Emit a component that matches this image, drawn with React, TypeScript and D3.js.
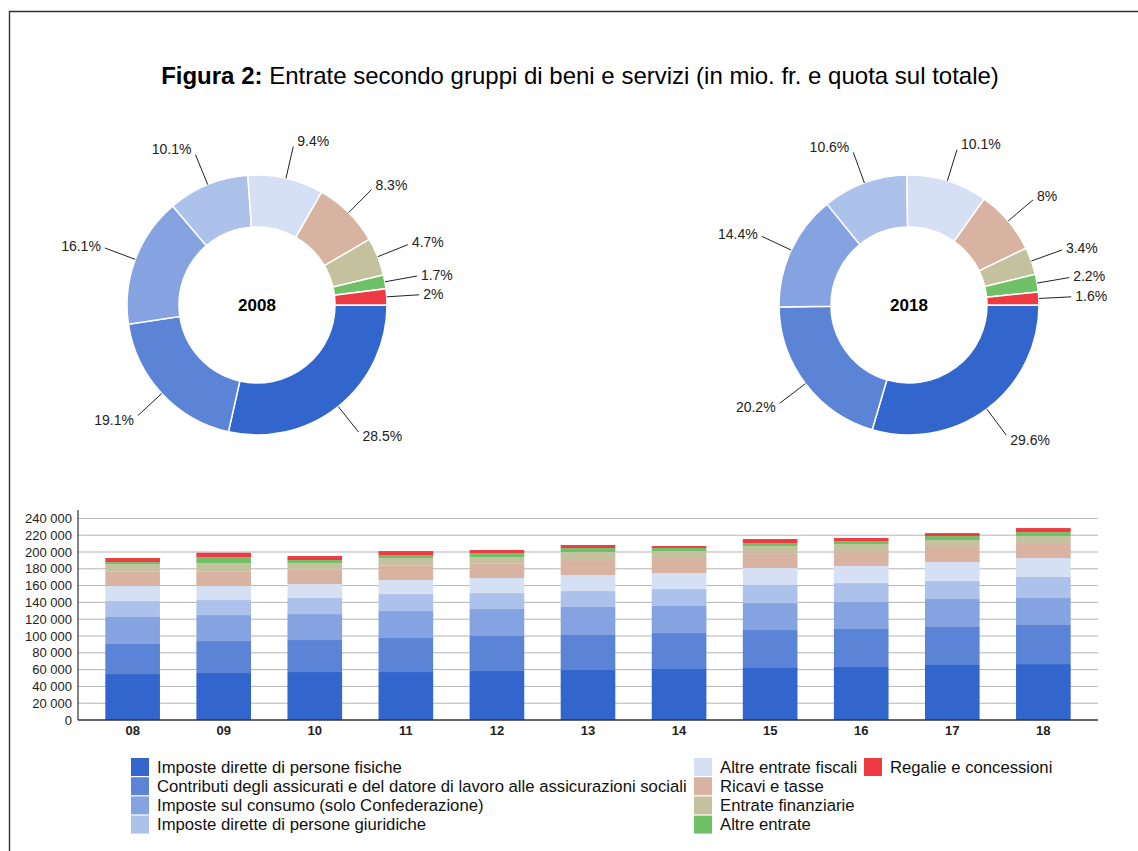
import React from 'react';
import * as d3 from 'd3';

// ---------- DATA ----------
const years = ['08', '09', '10', '11', '12', '13', '14', '15', '16', '17', '18'];

const seriesNames = [
  'Imposte dirette di persone fisiche',
  'Contributi degli assicurati e del datore di lavoro alle assicurazioni sociali',
  'Imposte sul consumo (solo Confederazione)',
  'Imposte dirette di persone giuridiche',
  'Altre entrate fiscali',
  'Ricavi e tasse',
  'Entrate finanziarie',
  'Altre entrate',
  'Regalie e concessioni',
];

const seriesColors = [
  '#3366cc', '#5b84d6', '#85a3e0', '#adc2eb', '#d6e0f5',
  '#d9b3a1', '#c4c29e', '#70c068', '#ee3a43',
];

// values in mio. fr.
const impostePersoneFisiche = [54700, 55900, 57100, 57100, 58300, 59500, 60700, 61900, 63100, 65500, 66600];
const contributi = [36600, 38100, 38100, 40500, 41700, 41700, 42800, 45200, 45200, 45200, 46500];
const imposteConsumo = [31300, 30900, 30900, 32100, 32100, 33300, 32200, 32100, 32100, 33300, 32100];
const impostePersoneGiuridiche = [19000, 17900, 19100, 20200, 19000, 19000, 20200, 21500, 22600, 21400, 25000];
const altreEntrateFiscali = [17900, 16700, 16700, 16700, 17900, 19100, 19000, 20200, 20300, 22600, 22600];
const ricaviTasse = [17500, 17000, 17000, 17500, 17500, 17800, 17900, 17800, 17800, 19100, 17800];
const entrateFinanziarie = [8600, 10300, 7900, 8700, 7500, 9500, 8300, 8400, 8300, 7100, 8400];
const altreEntrate = [2400, 7200, 3600, 3600, 4700, 4800, 3600, 3500, 3600, 4800, 4700];
const regalie = [4800, 5100, 4800, 4700, 3600, 3600, 2400, 4800, 3600, 3500, 4800];

const seriesValues = [
  impostePersoneFisiche, contributi, imposteConsumo, impostePersoneGiuridiche,
  altreEntrateFiscali, ricaviTasse, entrateFinanziarie, altreEntrate, regalie,
];

// pie shares (%)
const share2008 = [28.5, 19.1, 16.1, 10.1, 9.4, 8.3, 4.7, 1.7, 2];
const share2018 = [29.6, 20.2, 14.4, 10.6, 10.1, 8, 3.4, 2.2, 1.6];

const yTicks = [0, 20000, 40000, 60000, 80000, 100000, 120000, 140000, 160000, 180000, 200000, 220000, 240000];
const yMax = 250000;

// ---------- LAYOUT ----------
const W = 1138;
const H = 851;
const FONT = 'Liberation Sans, Arial, Helvetica, sans-serif';

const fmt = (v: number) => {
  if (v === 0) return '0';
  const s = String(v);
  return s.slice(0, s.length - 3) + '\u00a0' + s.slice(s.length - 3);
};

function Donut({ cx, cy, shares, label }: { cx: number; cy: number; shares: number[]; label: string }) {
  const R = 130;
  const r0 = 78;
  const pie = d3.pie<number>().sort(null).value((d) => d)
    .startAngle(Math.PI / 2).endAngle(Math.PI / 2 + 2 * Math.PI);
  const arcs = pie(shares);
  const arc = d3.arc<d3.PieArcDatum<number>>().innerRadius(r0).outerRadius(R);
  return (
    <g transform={`translate(${cx},${cy})`}>
      {arcs.map((a, i) => (
        <path key={i} d={arc(a) || ''} fill={seriesColors[i]} stroke="#fff" strokeWidth={1.5} />
      ))}
      {arcs.map((a, i) => {
        const m = (a.startAngle + a.endAngle) / 2;
        const s = Math.sin(m);
        const c = Math.cos(m);
        const x1 = R * s, y1 = -R * c;
        const R2 = R * 1.25;
        const x2 = R2 * s, y2 = -R2 * c;
        const right = s >= 0;
        return (
          <g key={'l' + i}>
            <line x1={x1} y1={y1} x2={x2} y2={y2} stroke="#222" strokeWidth={1} />
            <text x={x2 + (right ? 4 : -4)} y={y2 - 6 * c} dy="0.35em"
              textAnchor={right ? 'start' : 'end'} fontSize={14} fill="#222" fontFamily={FONT}>
              {String(shares[i]) + '%'}
            </text>
          </g>
        );
      })}
      <text x={0} y={0} dy="0.35em" textAnchor="middle" fontWeight="bold" fontSize={17} fill="#000" fontFamily={FONT}>
        {label}
      </text>
    </g>
  );
}

export default function App() {
  const plotLeft = 78;
  const plotRight = 1098;
  const plotBottom = 720;
  const plotTop = 510;

  const x = d3.scaleBand<string>().domain(years).range([plotLeft, plotRight]).paddingInner(0.4).paddingOuter(0.3);
  const y = d3.scaleLinear().domain([0, yMax]).range([plotBottom, plotTop]);

  const rows = years.map((yr, i) => {
    const o: any = { year: yr };
    seriesNames.forEach((n, k) => { o[n] = seriesValues[k][i]; });
    return o;
  });
  const stack = d3.stack<any>().keys(seriesNames);
  const stacked = stack(rows);

  const legendCols = [131, 694, 864];
  const legendTop = 758;
  const legendStep = 19.2;
  const legendItems = seriesNames.map((n, i) => {
    const col = i < 4 ? 0 : i < 8 ? 1 : 2;
    const row = i < 4 ? i : i < 8 ? i - 4 : 0;
    return { n, i, x: legendCols[col], y: legendTop + row * legendStep };
  });

  return (
    <div style={{ position: 'absolute', left: 0, top: 0 }}>
      <svg width={W} height={H} style={{ display: 'block', background: '#fff' }}>
        <path d={`M9.5,${H} L9.5,11.5 L${W},11.5`} fill="none" stroke="#333" strokeWidth={1.4} />

        <text x={580} y={84} textAnchor="middle" fontSize={24} fill="#000" fontFamily={FONT}>
          <tspan fontWeight="bold">Figura 2:</tspan>
          <tspan> Entrate secondo gruppi di beni e servizi (in mio. fr. e quota sul totale)</tspan>
        </text>

        <Donut cx={257} cy={305} shares={share2008} label="2008" />
        <Donut cx={909} cy={305} shares={share2018} label="2018" />

        {/* gridlines */}
        {yTicks.map((t) => (
          <g key={t}>
            {t > 0 && (
              <line x1={plotLeft} x2={plotRight} y1={y(t)} y2={y(t)} stroke="#b4b4b4" strokeWidth={1} />
            )}
            <text x={72} y={y(t)} dy="0.35em" textAnchor="end" fontSize={13} fill="#222" fontFamily={FONT}>
              {fmt(t)}
            </text>
          </g>
        ))}

        {/* bars */}
        {stacked.map((layer, k) => (
          <g key={k} fill={seriesColors[k]}>
            {layer.map((d, i) => (
              <rect key={i} x={x(years[i])} y={y(d[1])} width={x.bandwidth()} height={y(d[0]) - y(d[1])} />
            ))}
          </g>
        ))}

        {/* axes */}
        <line x1={plotLeft} x2={plotLeft} y1={plotTop} y2={plotBottom} stroke="#333" strokeWidth={1.2} />
        <line x1={plotLeft} x2={plotRight} y1={plotBottom} y2={plotBottom} stroke="#333" strokeWidth={1.5} />

        {years.map((yr) => (
          <text key={yr} x={(x(yr) || 0) + x.bandwidth() / 2} y={735} textAnchor="middle" fontWeight="bold"
            fontSize={13} fill="#222" fontFamily={FONT}>
            {yr}
          </text>
        ))}

        {/* legend */}
        {legendItems.map((it) => (
          <g key={it.i}>
            <rect x={it.x} y={it.y} width={18} height={18} fill={seriesColors[it.i]} />
            <text x={it.x + 26} y={it.y + 9} dy="0.35em" fontSize={16.7} fill="#111" fontFamily={FONT}>
              {it.n}
            </text>
          </g>
        ))}
      </svg>
    </div>
  );
}
